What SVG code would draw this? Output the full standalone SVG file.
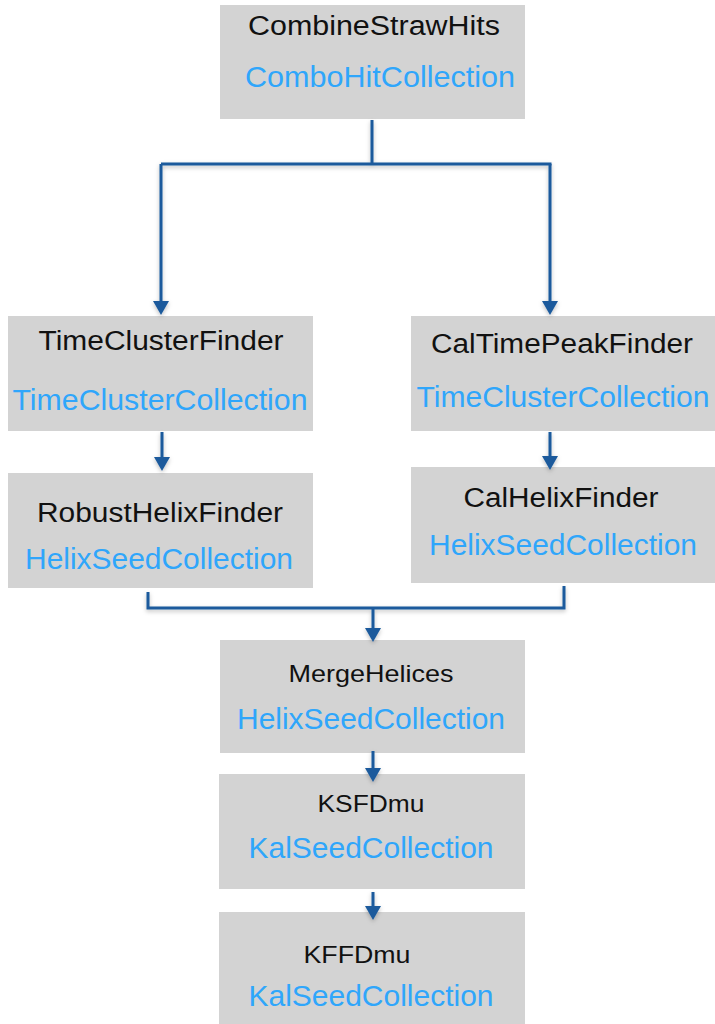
<svg xmlns="http://www.w3.org/2000/svg" width="715" height="1024" viewBox="0 0 715 1024">
  <style>
    .box { fill: #d3d3d3; }
    .title { font-family: "Liberation Sans", Arial, sans-serif; font-size: 27px; fill: #111111; text-anchor: middle; }
    .small { font-size: 24px; }
    .coll { font-family: "Liberation Sans", Arial, sans-serif; font-size: 30px; fill: #2fa6fb; text-anchor: middle; }
    .wire { fill: none; stroke: #1b5a9c; stroke-width: 3; }
  </style>
  <defs>
    <marker id="arrow" markerUnits="userSpaceOnUse" markerWidth="16" markerHeight="18" viewBox="0 -9 16 18" refX="2" refY="0" orient="auto">
      <path d="M0,-8 L14,0 L0,8 z" fill="#1b5a9c"/>
    </marker>
    <filter id="soft" x="-20%" y="-20%" width="140%" height="140%">
      <feDropShadow dx="0" dy="2" stdDeviation="2" flood-color="#000" flood-opacity="0.25"/>
    </filter>
  </defs>

  <!-- processing modules -->
  <g id="combine-straw-hits">
    <rect class="box" x="220" y="5" width="305" height="114"/>
    <text class="title" x="374" y="35" textLength="252" lengthAdjust="spacingAndGlyphs">CombineStrawHits</text>
    <text class="coll" x="380" y="87" textLength="270" lengthAdjust="spacingAndGlyphs">ComboHitCollection</text>
  </g>

  <g id="time-cluster-finder">
    <rect class="box" x="8" y="316" width="305" height="115"/>
    <text class="title" x="161" y="350" textLength="245" lengthAdjust="spacingAndGlyphs">TimeClusterFinder</text>
    <text class="coll" x="160" y="410" textLength="295" lengthAdjust="spacingAndGlyphs">TimeClusterCollection</text>
  </g>

  <g id="robust-helix-finder">
    <rect class="box" x="8" y="473" width="305" height="115"/>
    <text class="title" x="160" y="522" textLength="246" lengthAdjust="spacingAndGlyphs">RobustHelixFinder</text>
    <text class="coll" x="159" y="569" textLength="268" lengthAdjust="spacingAndGlyphs">HelixSeedCollection</text>
  </g>

  <g id="cal-time-peak-finder">
    <rect class="box" x="411" y="316" width="304" height="115"/>
    <text class="title" x="562" y="353" textLength="262" lengthAdjust="spacingAndGlyphs">CalTimePeakFinder</text>
    <text class="coll" x="563" y="407" textLength="293" lengthAdjust="spacingAndGlyphs">TimeClusterCollection</text>
  </g>

  <g id="cal-helix-finder">
    <rect class="box" x="411" y="467" width="304" height="116"/>
    <text class="title" x="561" y="507" textLength="195" lengthAdjust="spacingAndGlyphs">CalHelixFinder</text>
    <text class="coll" x="563" y="555" textLength="268" lengthAdjust="spacingAndGlyphs">HelixSeedCollection</text>
  </g>

  <g id="merge-helices">
    <rect class="box" x="220" y="640" width="305" height="113"/>
    <text class="title small" x="371" y="682" textLength="165" lengthAdjust="spacingAndGlyphs">MergeHelices</text>
    <text class="coll" x="371" y="729" textLength="268" lengthAdjust="spacingAndGlyphs">HelixSeedCollection</text>
  </g>

  <g id="ksfdmu">
    <rect class="box" x="219" y="774" width="306" height="115"/>
    <text class="title small" x="371" y="812" textLength="107" lengthAdjust="spacingAndGlyphs">KSFDmu</text>
    <text class="coll" x="371" y="858" textLength="245" lengthAdjust="spacingAndGlyphs">KalSeedCollection</text>
  </g>

  <g id="kffdmu">
    <rect class="box" x="219" y="912" width="306" height="112"/>
    <text class="title small" x="357" y="963" textLength="107" lengthAdjust="spacingAndGlyphs">KFFDmu</text>
    <text class="coll" x="371" y="1006" textLength="245" lengthAdjust="spacingAndGlyphs">KalSeedCollection</text>
  </g>

  <!-- data flow between modules -->
  <g id="connectors" class="wire" filter="url(#soft)">
    <path d="M372,120 V164"/>
    <path d="M161,164 H551.5"/>
    <path d="M161,164 V303" marker-end="url(#arrow)"/>
    <path d="M550,164 V303" marker-end="url(#arrow)"/>
    <path d="M162,432 V459" marker-end="url(#arrow)"/>
    <path d="M550,432 V458" marker-end="url(#arrow)"/>
    <path d="M148,592 V608 H564 V586"/>
    <path d="M373,608 V630" marker-end="url(#arrow)"/>
    <path d="M373,751 V770" marker-end="url(#arrow)"/>
    <path d="M373,892 V908" marker-end="url(#arrow)"/>
  </g>
</svg>
